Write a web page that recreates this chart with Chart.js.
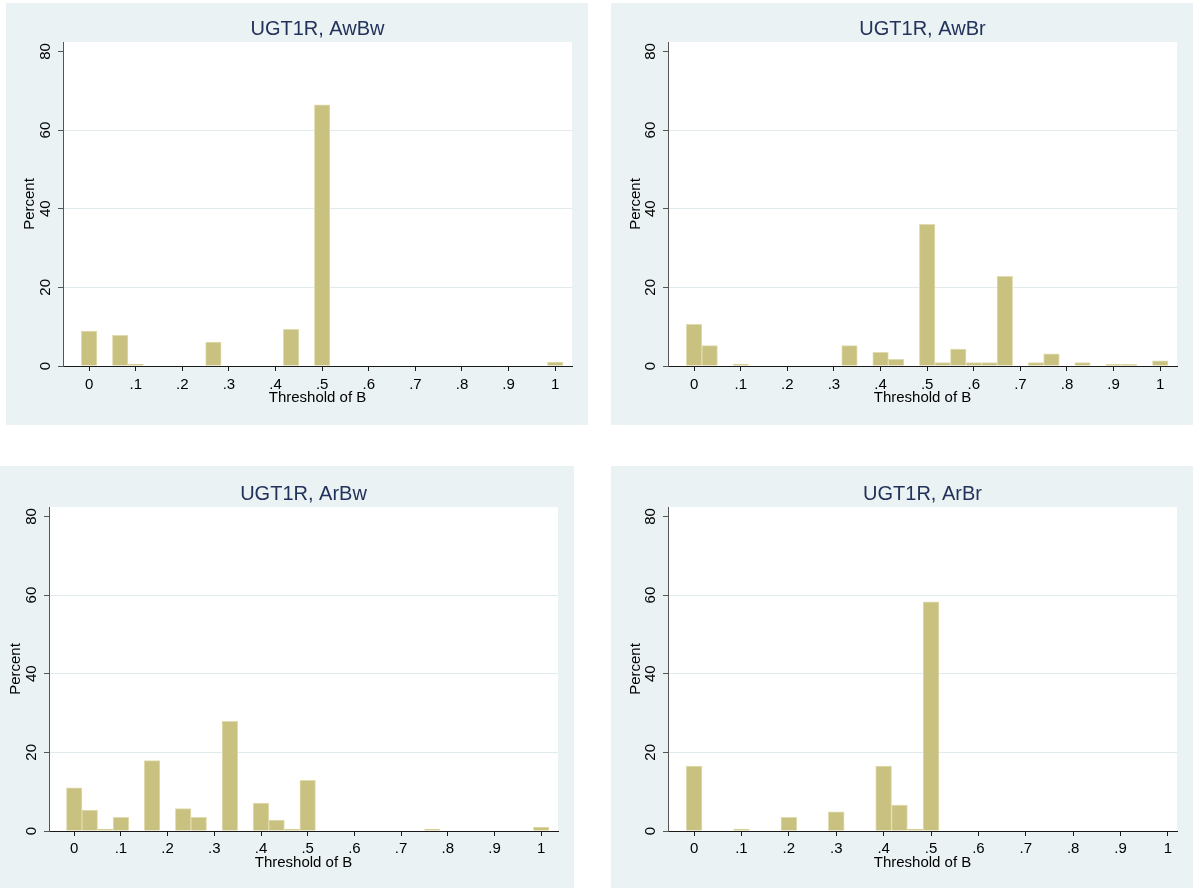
<!DOCTYPE html>
<html>
<head>
<meta charset="utf-8">
<title>Threshold of B histograms</title>
<script src="https://cdn.jsdelivr.net/npm/chart.js@4.4.1/dist/chart.umd.min.js"></script>
<style>
  html, body { margin: 0; padding: 0; background: #fff; }
  body { width: 1193px; height: 890px; position: relative; overflow: hidden; }
  .panel { position: absolute; background: #eaf2f3; }
  .panel canvas { display: block; }
</style>
</head>
<body>
<div class="panel" style="left:6px;top:3px;width:582px;height:422px"><canvas id="c1" width="582" height="422"></canvas></div>
<div class="panel" style="left:611px;top:3px;width:582px;height:422px"><canvas id="c2" width="582" height="422"></canvas></div>
<div class="panel" style="left:0px;top:466px;width:574px;height:422px"><canvas id="c3" width="574" height="422"></canvas></div>
<div class="panel" style="left:611px;top:466px;width:582px;height:422px"><canvas id="c4" width="582" height="422"></canvas></div>
<script>
// bin centres (Threshold of B, bins of width 1/30) and percent in each bin
const awbwX = [0, 2/30, 3/30, 8/30, 13/30, 15/30, 1];
const awbwPct = [8.9, 7.8, 0.5, 6.1, 9.3, 66.4, 1.0];

const awbrX = [0, 1/30, 3/30, 10/30, 12/30, 13/30, 15/30, 16/30, 17/30, 18/30, 19/30, 20/30, 22/30, 23/30, 25/30, 27/30, 28/30, 1];
const awbrPct = [10.6, 5.2, 0.5, 5.2, 3.5, 1.7, 36.0, 0.9, 4.3, 0.9, 0.9, 22.8, 0.9, 3.1, 0.9, 0.4, 0.4, 1.3];

const arbwX = [0, 1/30, 2/30, 3/30, 5/30, 7/30, 8/30, 10/30, 12/30, 13/30, 14/30, 15/30, 23/30, 1];
const arbwPct = [11.0, 5.3, 0.5, 3.5, 17.9, 5.7, 3.5, 27.9, 7.1, 2.8, 0.5, 12.9, 0.5, 1.0];

const arbrX = [0, 3/30, 6/30, 9/30, 12/30, 13/30, 14/30, 15/30];
const arbrPct = [16.5, 0.5, 3.5, 4.9, 16.5, 6.6, 0.5, 58.3];

// axis ticks
const xTicks = [0, 0.1, 0.2, 0.3, 0.4, 0.5, 0.6, 0.7, 0.8, 0.9, 1];
const xTickLabels = ['0', '.1', '.2', '.3', '.4', '.5', '.6', '.7', '.8', '.9', '1'];
const yTicks = [0, 20, 40, 60, 80];
const yTickLabels = ['0', '20', '40', '60', '80'];

Chart.defaults.font.family = '"Liberation Sans", Arial, Helvetica, sans-serif';
Chart.defaults.font.size = 15;
Chart.defaults.color = '#000';

// white plot region on the bluish-grey graph region
const plotBg = {
  id: 'plotBg',
  beforeDraw(chart) {
    const a = chart.chartArea;
    const c = chart.ctx;
    c.save();
    c.fillStyle = '#fff';
    c.fillRect(a.left, a.top, a.right - a.left, a.bottom - a.top);
    c.restore();
  }
};

function makeHist(id, title, xs, pct, o) {
  const ctx = document.getElementById(id).getContext('2d');
  return new Chart(ctx, {
    type: 'bar',
    data: {
      datasets: [{
        data: xs.map((x, i) => ({ x: x, y: pct[i] })),
        backgroundColor: '#c9c17f',
        borderColor: '#e0dcb0',
        borderWidth: 1,
        borderSkipped: 'bottom',
        barPercentage: 1,
        categoryPercentage: 1
      }]
    },
    plugins: [plotBg],
    options: {
      responsive: false,
      animation: false,
      devicePixelRatio: 1,
      layout: { padding: { right: 16 } },
      plugins: {
        legend: { display: false },
        tooltip: { enabled: false },
        title: {
          display: true,
          text: title,
          fullSize: false,
          color: '#22325a',
          font: { size: 20, weight: 'normal' },
          padding: { top: o.titleTop, bottom: o.titleBottom }
        }
      },
      scales: {
        x: {
          type: 'linear',
          offset: false,
          min: o.xMin,
          max: o.xMax,
          afterBuildTicks: s => { s.ticks = xTicks.map(v => ({ value: v })); },
          afterFit: s => { s.height = o.xHeight; },
          ticks: {
            callback: (v, i) => xTickLabels[i],
            autoSkip: false,
            maxRotation: 0,
            padding: o.xTickPad
          },
          grid: { offset: false, drawOnChartArea: false, tickLength: 5, tickColor: '#1a1a1a' },
          border: { color: '#1a1a1a' },
          title: { display: true, text: 'Threshold of B', padding: { top: 0, bottom: o.xTitleBottom } }
        },
        y: {
          min: 0,
          max: 82.4,
          afterBuildTicks: s => { s.ticks = yTicks.map(v => ({ value: v })); },
          afterFit: s => { s.width = o.yWidth; },
          ticks: {
            callback: (v, i) => yTickLabels[i],
            minRotation: 90,
            maxRotation: 90,
            crossAlign: 'center',
            padding: 4
          },
          grid: {
            // no grid line on the outer labels (0 sits on the axis, 80 near the top)
            color: c => (c.tick && (c.tick.value === 0 || c.tick.value === 80)) ? 'rgba(0,0,0,0)' : '#e1ebee',
            tickLength: 5,
            tickColor: '#555'
          },
          border: { color: '#555' },
          title: { display: true, text: 'Percent', padding: { top: o.yTitleTop, bottom: 0 } }
        }
      }
    }
  });
}

makeHist('c1', 'UGT1R, AwBw', awbwX, awbwPct,
  { xMin: -0.056, xMax: 1.036, yWidth: 57, xHeight: 59, titleTop: 14, titleBottom: 1, xTickPad: 5, xTitleBottom: 18, yTitleTop: 15 });
makeHist('c2', 'UGT1R, AwBr', awbrX, awbrPct,
  { xMin: -0.056, xMax: 1.036, yWidth: 57, xHeight: 59, titleTop: 14, titleBottom: 1, xTickPad: 5, xTitleBottom: 18, yTitleTop: 16 });
makeHist('c3', 'UGT1R, ArBw', arbwX, arbwPct,
  { xMin: -0.054, xMax: 1.036, yWidth: 49, xHeight: 57, titleTop: 16, titleBottom: 1, xTickPad: 4, xTitleBottom: 16, yTitleTop: 7 });
makeHist('c4', 'UGT1R, ArBr', arbrX, arbrPct,
  { xMin: -0.055, xMax: 1.019, yWidth: 57, xHeight: 57, titleTop: 16, titleBottom: 1, xTickPad: 4, xTitleBottom: 16, yTitleTop: 16 });
</script>
</body>
</html>
